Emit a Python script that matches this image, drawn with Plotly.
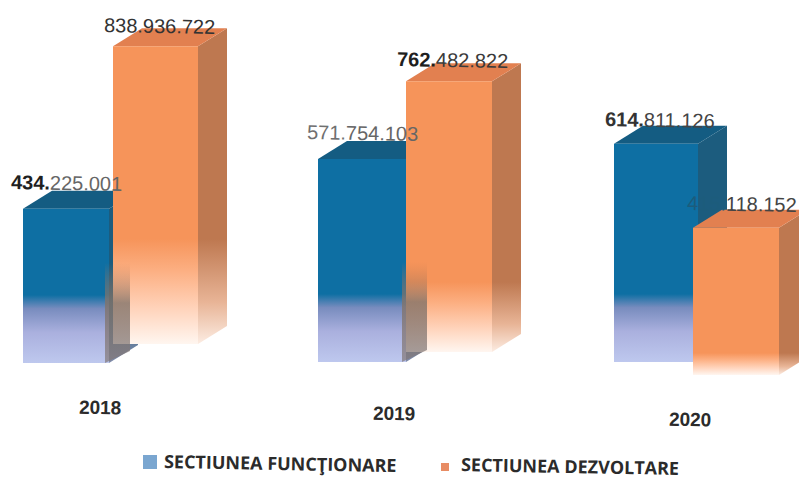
import plotly.graph_objects as go

# Budget sections per year
years = ["2018", "2019", "2020"]
functionare = [434225001, 571754103, 614811126]
dezvoltare = [838936722, 762482822, 415118152]
section_names = ["SECTIUNEA FUNCŢIONARE", "SECTIUNEA DEZVOLTARE"]

# Scale and layout of the drawing
PX_PER_MILLION = 0.355
FLOOR_PX = 380
WIDTH, HEIGHT = 799, 479
DEPTH_X, DEPTH_Y = 29, 18

blue_left = [23, 318, 614]
blue_width = [86, 88, 84]
blue_floor = [363, 362, 362]
orange_left = [113, 406, 693]
orange_width = [85, 86, 86]
orange_floor = [344, 352, 375]
orange_fade = [105, 70, 22]
shaded_groups = [0, 1]


def lift(px):
    return (FLOOR_PX - px) / PX_PER_MILLION


def box(left, width, floor, amount):
    """Corner data of one pseudo-3D column, derived from its value."""
    base = lift(floor)
    top = base + amount / 1e6
    dy = DEPTH_Y / PX_PER_MILLION
    return left, left + width, base, top, dy


def fade_scale(height_px, fade_px, stops, solid):
    end = min(0.95, fade_px / height_px)
    scale = [[pos * end, colour] for pos, colour in stops]
    return scale + [[end, solid], [1, solid]]


def polygon(xs, ys, colour=None, gradient=None):
    trace = dict(x=xs + xs[:1], y=ys + ys[:1], mode="lines", fill="toself",
                 line=dict(width=0), hoverinfo="skip", showlegend=False)
    if gradient:
        trace["fillgradient"] = dict(type="vertical", colorscale=gradient)
        trace["fillcolor"] = "rgba(0,0,0,0)"
    else:
        trace["fillcolor"] = colour
    return go.Scatter(**trace)


def add_column(fig, left, width, floor, amount, front, side, cap, fade_px):
    x0, x1, base, top, dy = box(left, width, floor, amount)
    height_px = (top - base) * PX_PER_MILLION
    fig.add_trace(polygon([x1, x1 + DEPTH_X, x1 + DEPTH_X, x1],
                          [base, base + dy, top + dy, top],
                          gradient=fade_scale(height_px + DEPTH_Y, fade_px, side[0], side[1])))
    fig.add_trace(polygon([x0, x0 + DEPTH_X, x1 + DEPTH_X, x1],
                          [top, top + dy, top + dy, top], colour=cap))
    fig.add_trace(polygon([x0, x1, x1, x0], [base, base, top, top],
                          gradient=fade_scale(height_px, fade_px, front[0], front[1])))


fig = go.Figure()

BLUE_FRONT = ([(0, "rgb(190,200,238)"), (0.45, "rgb(170,176,222)"), (0.8, "rgb(120,140,190)")],
              "rgb(14,111,163)")
BLUE_SIDE = ([(0, "rgb(130,140,170)")], "rgb(28,92,126)")
BLUE_CAP = "rgb(20,92,130)"
ORANGE_FRONT = ([(0, "rgb(255,246,240)"), (0.35, "rgb(255,210,185)"), (0.7, "rgb(252,175,130)")],
                "rgb(246,148,90)")
ORANGE_SIDE = ([(0, "rgb(252,236,226)"), (0.4, "rgb(232,180,150)")], "rgb(190,120,80)")
ORANGE_CAP = "rgb(226,128,80)"

for i in range(len(years)):
    add_column(fig, blue_left[i], blue_width[i], blue_floor[i], functionare[i],
               BLUE_FRONT, BLUE_SIDE, BLUE_CAP, 68)

for i in range(len(years)):
    add_column(fig, orange_left[i], orange_width[i], orange_floor[i], dezvoltare[i],
               ORANGE_FRONT, ORANGE_SIDE, ORANGE_CAP, orange_fade[i])

# The blue column's flank shows through the faded foot of the orange column
for i in shaded_groups:
    x1 = blue_left[i] + blue_width[i]
    base = lift(blue_floor[i])
    top = base + 100 / PX_PER_MILLION
    fig.add_trace(polygon([x1 - 4, x1 + 21, x1 + 21, x1 - 4],
                          [base, base + 12 / PX_PER_MILLION, top, top],
                          gradient=[[0, "rgba(130,120,120,0.7)"], [0.6, "rgba(130,115,105,0.8)"],
                                    [1, "rgba(190,120,80,0)"]]))


def px_y(py):
    return 1 - py / HEIGHT


def amount_label(value, first_colour, strong, rest):
    text = f"{value:,}".replace(",", ".")
    head, tail = text[:4], text[4:]
    head_html = f'<span style="color:{first_colour}">{head}</span>'
    if strong:
        head_html = f"<b>{head_html}</b>"
    return f'{head_html}<span style="color:{rest}">{tail}</span>'


def text_note(px, py, html, family, size, colour="#2b2b2b"):
    return dict(x=px / WIDTH, y=px_y(py), xref="paper", yref="paper", xanchor="center",
                yanchor="middle", text=html, showarrow=False, textangle=1,
                font=dict(family=family, size=size, color=colour))


labels = [
    (functionare[0], 66, 183, "#1f1f1f", True, "#666666"),
    (dezvoltare[0], 159, 26, "#333333", False, "#333333"),
    (functionare[1], 362, 133, "#707070", False, "#666666"),
    (dezvoltare[1], 452, 60, "#1f1f1f", True, "#3a3a3a"),
    (functionare[2], 660, 120, "#333333", True, "#444444"),
    (dezvoltare[2], 742, 204, "#1c5c7c", False, "#444444"),
]
annotations = [text_note(px, py, amount_label(value, head, strong, rest), "Liberation Sans", 20)
               for value, px, py, head, strong, rest in labels]

year_positions = [(100, 407), (394, 413), (690, 419)]
annotations += [text_note(px, py, f"<b>{year}</b>", "Liberation Sans", 19)
                for year, (px, py) in zip(years, year_positions)]

legend_positions = [(280, 463), (570, 466)]
annotations += [text_note(px, py, f"<b>{name}</b>", "Open Sans", 18)
                for name, (px, py) in zip(section_names, legend_positions)]

# Legend keys sit on the same scale as the columns
fig.add_trace(go.Scatter(x=[150], y=[lift(462)], mode="markers", name=section_names[0],
                         marker=dict(symbol="square", size=14, color="rgb(122,166,208)"),
                         showlegend=False, hoverinfo="skip"))
fig.add_trace(go.Scatter(x=[445], y=[lift(467)], mode="markers", name=section_names[1],
                         marker=dict(symbol="square", size=8, color="rgb(232,140,100)"),
                         showlegend=False, hoverinfo="skip"))

fig.update_layout(
    width=WIDTH, height=HEIGHT, margin=dict(l=0, r=0, t=0, b=0),
    paper_bgcolor="white", plot_bgcolor="white", annotations=annotations,
    xaxis=dict(range=[0, WIDTH], visible=False, fixedrange=True),
    yaxis=dict(range=[lift(HEIGHT), lift(0)], visible=False, fixedrange=True),
)

fig.write_html("out.html")
